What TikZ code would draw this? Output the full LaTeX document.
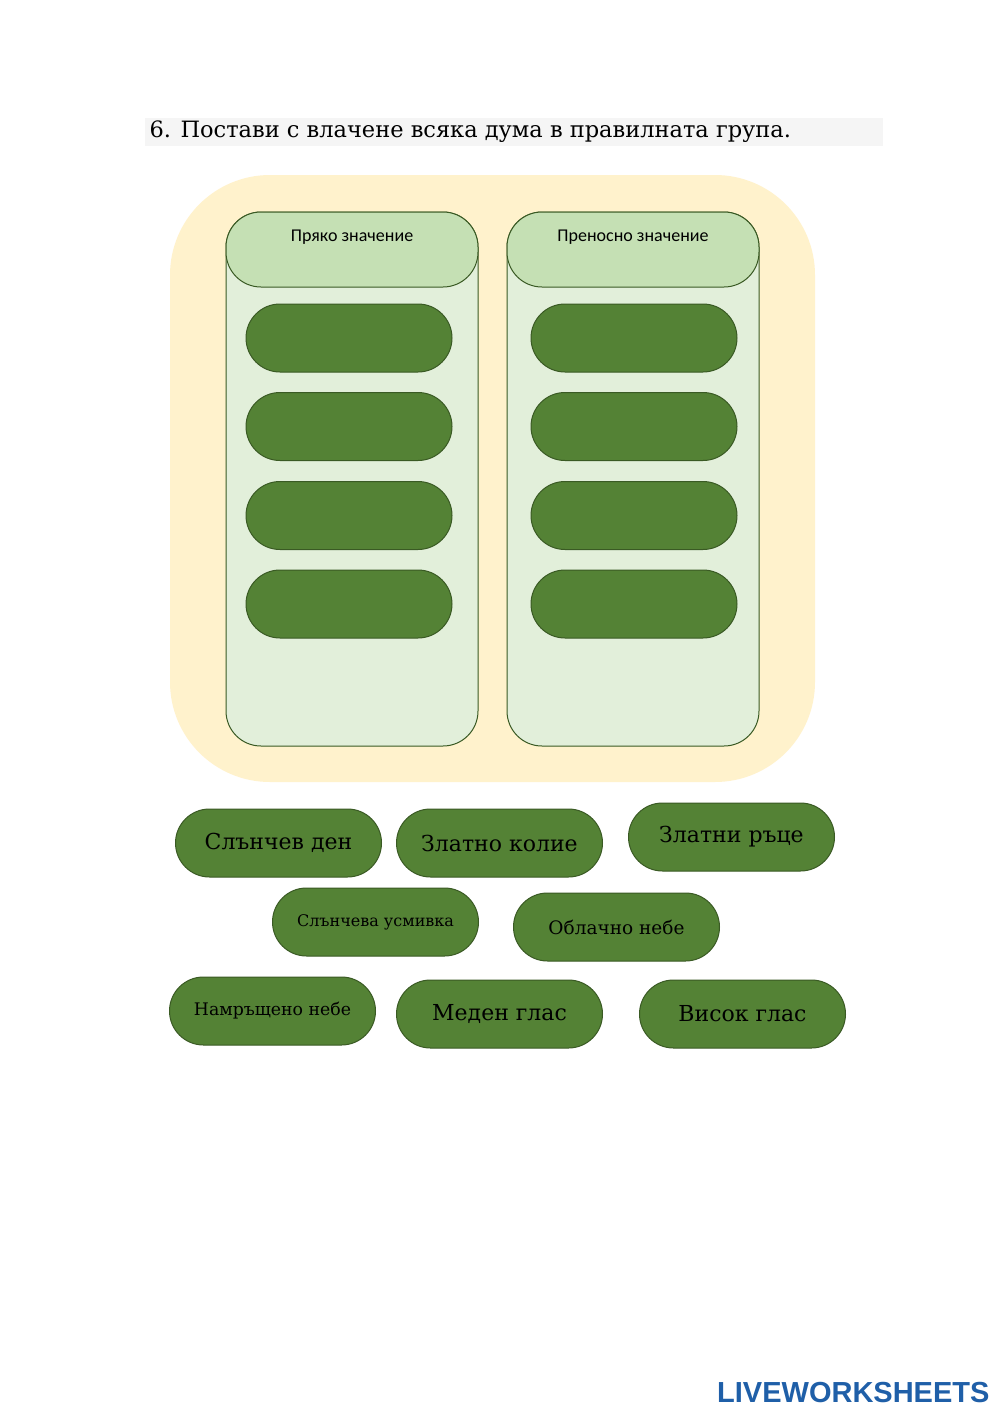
\documentclass[tikz,border=0pt]{standalone}
\usepackage{fontspec}
\setmainfont{DejaVu Serif}
\newfontfamily\hdr{Carlito}
\newfontfamily\logo{Liberation Sans}
\definecolor{bgy}{HTML}{FFF2CC}
\definecolor{colf}{HTML}{E2EFDA}
\definecolor{colh}{HTML}{C5E0B4}
\definecolor{pill}{HTML}{548235}
\definecolor{pbd}{HTML}{3A5A24}
\definecolor{lw}{HTML}{1F5FA8}
\begin{document}
\begin{tikzpicture}[x=1pt,y=-1pt,
 slot/.style={draw=pbd,line width=1pt,fill=pill,rounded corners=34pt,minimum width=206pt,minimum height=68pt},
 word/.style={slot,font=\fontsize{22}{24}\selectfont,text=black},
 col/.style={draw=pbd,line width=1pt,fill=colf,rounded corners=35pt},
 head/.style={draw=pbd,line width=1pt,fill=colh,rounded corners=35pt}]
\useasboundingbox (0,0) rectangle (1000,1413);
\fill[white] (0,0) rectangle (1000,1413);
\fill[black!4] (145,118) rectangle (883,146);
\node[anchor=west,font=\fontsize{22.5}{24}\selectfont] (title) at (146,132) {6. Постави с влачене всяка дума в правилната група.};
\fill[bgy,rounded corners=100pt] (170,175) rectangle (815,782);
\foreach \x/\n/\t in {226/L/Пряко значение,507/R/Преносно значение}{
 \draw[col] (\x,212) rectangle (\x+252,746);
 \draw[head] (\x,212) rectangle (\x+252,287);
 \node[font=\hdr\fontsize{18}{20}\selectfont] (h\n) at (\x+126,237) {\t};
}
\foreach \i/\y in {1/338,2/426.5,3/515.5,4/604}{
 \node[slot] (l\i) at (349,\y) {};
 \node[slot] (r\i) at (634,\y) {};
}
\node[word] (w1) at (278.5,843) {Слънчев ден};
\node[word] (w2) at (499.5,843) {Златно колие};
\node[word] (w3) at (731.5,837) {Златни ръце};
\node[word,font=\fontsize{16}{18}\selectfont] (w4) at (375.5,922) {Слънчева усмивка};
\node[word,font=\fontsize{18.5}{20}\selectfont] (w5) at (616.5,927) {Облачно небе};
\node[word,font=\fontsize{17.3}{19}\selectfont] (w6) at (272.5,1011) {Намръщено небе};
\node[word] (w7) at (499.5,1014) {Меден глас};
\node[word] (w8) at (742.5,1014) {Висок глас};
\node[anchor=east,font=\logo\bfseries\fontsize{29}{31}\selectfont,text=lw] (lg) at (993,1392) {LIVEWORKSHEETS};
\end{tikzpicture}
\end{document}
